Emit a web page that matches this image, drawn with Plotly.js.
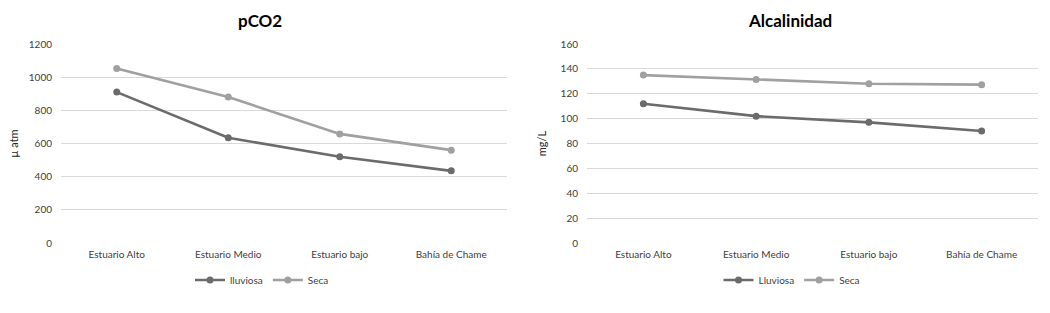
<!DOCTYPE html>
<html>
<head>
<meta charset="utf-8">
<script src="https://cdn.plot.ly/plotly-3.0.1.min.js"></script>
<style>html,body{margin:0;padding:0;background:#fff;}#chart{width:1050px;height:313px;}</style>
</head>
<body>
<div id="chart"></div>
<script>
const categories = ["Estuario Alto", "Estuario Medio", "Estuario bajo", "Bahía de Chame"];
const pco2Lluviosa = [910, 635, 520, 435];
const pco2Seca = [1052, 880, 658, 560];
const alcLluviosa = [112, 102, 97, 90];
const alcSeca = [135, 131.5, 128, 127.3];
const pco2Ticks = [0, 200, 400, 600, 800, 1000, 1200];
const alcTicks = [0, 20, 40, 60, 80, 100, 120, 140, 160];

const darkC = "#6b6b6b", lightC = "#a0a0a0";
const font = "Lato, 'Open Sans', sans-serif";
function tr(x, y, name, color, xa, ya, legend, show) {
  return {x: x, y: y, name: name, type: "scatter", mode: "lines+markers",
    line: {color: color, width: 2.6}, marker: {color: color, size: 7},
    xaxis: xa, yaxis: ya, legend: legend, showlegend: show};
}
const data = [
  tr(categories, pco2Lluviosa, "lluviosa", darkC, "x", "y", "legend", true),
  tr(categories, pco2Seca, "Seca", lightC, "x", "y", "legend", true),
  tr(categories, alcLluviosa, "Lluviosa", darkC, "x2", "y2", "legend2", true),
  tr(categories, alcSeca, "Seca", lightC, "x2", "y2", "legend2", true)
];
const tickFont = {family: font, size: 10, color: "#404040"};
const yBase = {showgrid: true, gridcolor: "#d9d9d9", gridwidth: 1, zeroline: false, showline: false,
  tickfont: tickFont, ticks: "", ticklabelstandoff: 8, fixedrange: true};
const xBase = {showgrid: false, zeroline: false, showline: false, tickfont: tickFont, ticks: "",
  type: "category", range: [-0.5, 3.5], ticklabelstandoff: 4};
const layout = {
  width: 1050, height: 313,
  margin: {l: 0, r: 0, t: 0, b: 0},
  paper_bgcolor: "#fff", plot_bgcolor: "#fff",
  font: {family: font, color: "#404040"},
  xaxis: Object.assign({}, xBase, {domain: [61/1050, 507/1050], anchor: "y"}),
  yaxis: Object.assign({}, yBase, {domain: [70/313, 269/313], range: [0, 1200], tickvals: pco2Ticks, anchor: "x",
    title: {text: "µ atm", font: {family: font, size: 11, color: "#262626"}, standoff: 7}}),
  xaxis2: Object.assign({}, xBase, {domain: [587/1050, 1038/1050], anchor: "y2"}),
  yaxis2: Object.assign({}, yBase, {domain: [70/313, 269/313], range: [0, 160], tickvals: alcTicks, anchor: "x2",
    title: {text: "mg/L", font: {family: font, size: 11, color: "#262626"}, standoff: 11}}),
  legend: {orientation: "h", x: 262/1050, xanchor: "center", y: 33/313, yanchor: "middle",
    font: {family: font, size: 10, color: "#404040"}, itemwidth: 30, tracegroupgap: 0},
  legend2: {orientation: "h", x: 792/1050, xanchor: "center", y: 33/313, yanchor: "middle",
    font: {family: font, size: 10, color: "#404040"}, itemwidth: 30, tracegroupgap: 0},
  annotations: [
    {text: "<b>pCO2</b>", xref: "paper", yref: "paper", x: 260/1050, y: 293/313, xanchor: "center", yanchor: "middle",
      showarrow: false, font: {family: font, size: 17, color: "#000"}},
    {text: "<b>Alcalinidad</b>", xref: "paper", yref: "paper", x: 790/1050, y: 293/313, xanchor: "center", yanchor: "middle",
      showarrow: false, font: {family: font, size: 17, color: "#000"}}
  ]
};
Plotly.newPlot("chart", data, layout, {staticPlot: true, displayModeBar: false});
</script>
</body>
</html>
